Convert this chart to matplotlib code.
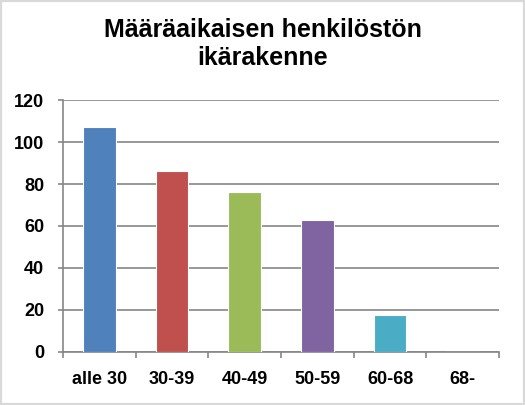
import matplotlib
matplotlib.use("Agg")
from matplotlib import pyplot as plt
from matplotlib.patches import Rectangle

categories = ["alle 30", "30-39", "40-49", "50-59", "60-68", "68-"]
values = [107, 86, 76, 63, 17.5, 0]
colors = ["#4F81BD", "#C0504D", "#9BBB59", "#8064A2", "#4BACC6", "#F79646"]
title = "Määräaikaisen henkilöstön\nikärakenne"

plt.rcParams['font.family'] = ['Liberation Sans', 'DejaVu Sans']
grey = "#868686"

fig = plt.figure(figsize=(5.25, 4.05), dpi=100)
ax = fig.add_axes([0.12, 0.131, 0.8305, 0.622])

x = list(range(len(categories)))
ax.bar(x, values, width=0.45, color=colors, edgecolor="white", linewidth=0.8, zorder=3)

ax.set_xlim(-0.5, len(categories) - 0.5)
ax.set_ylim(0, 120)
ax.set_yticks(range(0, 121, 20))
ax.yaxis.grid(True, color=grey, linewidth=1.2, zorder=0)
ax.set_axisbelow(True)

ax.set_xticks(x)
ax.set_xticklabels(categories, fontsize=13, fontweight="bold")
ax.set_xticks([i - 0.5 for i in range(len(categories) + 1)], minor=True)
ax.tick_params(axis="x", which="major", length=0, pad=14)
ax.tick_params(axis="x", which="minor", length=4, width=1.2, color=grey, direction="out")
ax.tick_params(axis="y", length=3.5, width=1.2, color=grey, pad=10)
for lab in ax.get_yticklabels():
    lab.set_fontsize(13)
    lab.set_fontweight("bold")

for side in ["top", "right"]:
    ax.spines[side].set_visible(False)
for side in ["left", "bottom"]:
    ax.spines[side].set_color(grey)
    ax.spines[side].set_linewidth(1.2)

fig.text(0.5, 0.955, title, ha="center", va="top", fontsize=18, fontweight="bold",
         linespacing=1.22)

# light grey chart border
fig.patches.append(Rectangle((0, 0), 1, 1, transform=fig.transFigure, fill=False,
                             edgecolor="#D9D9D9", linewidth=3))

fig.savefig("out.png", dpi=100)
